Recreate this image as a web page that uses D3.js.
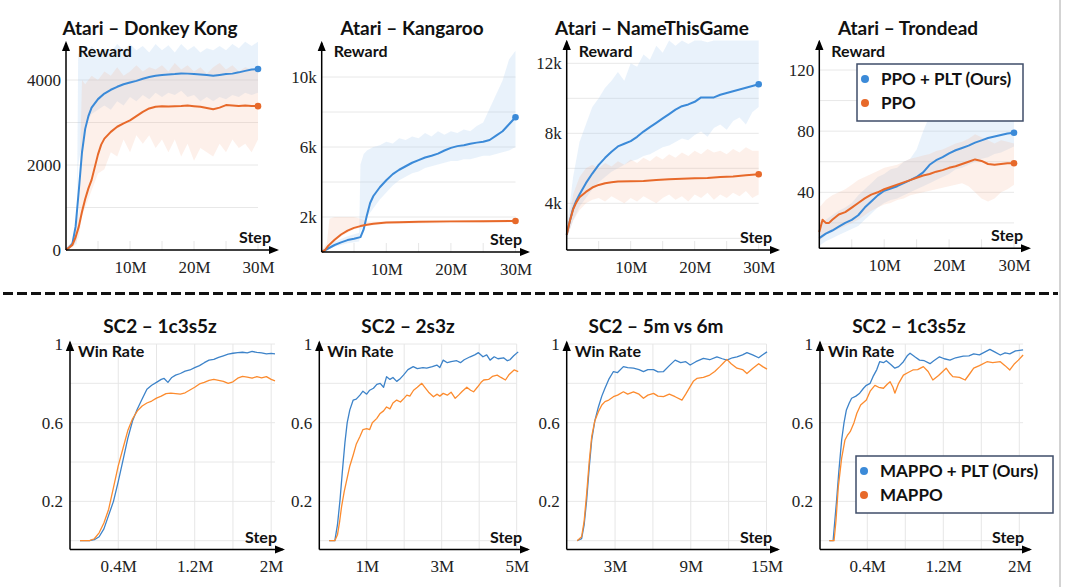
<!DOCTYPE html>
<html>
<head>
<meta charset="utf-8">
<style>
    body { margin: 0; background: #fff; }
    svg { display: block; }
    .title { font-family: Lato, "Open Sans", sans-serif; font-weight: 700; font-size: 19px; fill: #111; }
    .alabel { font-family: Lato, "Open Sans", sans-serif; font-weight: 700; font-size: 16px; fill: #111; }
    .domain { display: none; }
    .legend text { font-family: Lato, "Open Sans", sans-serif; font-weight: 700; font-size: 17px; fill: #111; }
</style>
</head>
<body>
<svg width="1067" height="587"></svg>

<script src="https://d3js.org/d3.v7.min.js"></script>
<script>
// ---------- data (step in M, value) ----------
const dkPLT = [[0,0],[0.5,60],[1,150],[1.5,550],[2,1400],[2.5,2300],[3,2850],[3.5,3150],[4,3350],[5,3550],[6,3680],[7,3770],[8,3840],[9,3900],[10,3940],[11,3980],[12,4030],[13,4070],[14,4100],[15,4120],[16,4130],[17,4140],[18,4155],[19,4150],[20,4140],[21,4130],[22,4115],[23,4100],[24,4120],[25,4140],[26,4150],[27,4180],[28,4215],[29,4245],[30,4260]];
const dkPPO = [[0,0],[1,120],[1.5,300],[2,550],[2.5,900],[3,1200],[3.5,1450],[4,1650],[4.5,1950],[5,2250],[5.5,2480],[6,2620],[7,2780],[8,2900],[9,2980],[10,3050],[11,3150],[12,3250],[13,3330],[14,3370],[15,3380],[16,3375],[17,3385],[18,3390],[19,3400],[20,3385],[21,3370],[22,3340],[23,3310],[24,3350],[25,3410],[26,3400],[27,3390],[28,3400],[29,3390],[30,3385]];
const dkPLTBand = [[0,0,50],[1,80,200],[1.7,150,500],[1.9,2000,4600],[2.5,2500,4750],[3,2900,4500],[4,3200,4800],[5,3300,4600],[6,3400,4750],[7,3300,4650],[8,3500,4850],[9,3400,4700],[10,3600,4850],[11,3500,4700],[12,3650,4800],[13,3550,4650],[14,3700,4850],[15,3600,4700],[16,3700,4820],[17,3650,4650],[18,3750,4850],[19,3600,4700],[20,3650,4800],[21,3500,4650],[22,3600,4750],[23,3500,4700],[24,3600,4800],[25,3550,4700],[26,3650,4850],[27,3600,4750],[28,3700,4900],[29,3650,4800],[30,3700,4900]];
const dkPPOBand = [[0,0,50],[1,60,200],[2,300,900],[2.5,800,4000],[3,1000,3900],[4,1400,4100],[5,1800,4000],[6,1900,4200],[7,2300,4100],[8,2200,4300],[9,2600,4100],[10,2300,4200],[11,2700,4350],[12,2500,4200],[13,2700,4300],[14,2400,4250],[15,2600,4350],[16,2300,4200],[17,2600,4400],[18,2200,4250],[19,2500,4350],[20,2100,4200],[21,2400,4300],[22,2300,4150],[23,2200,4300],[24,2500,4400],[25,2300,4250],[26,2600,4350],[27,2400,4200],[28,2500,4300],[29,2300,4250],[30,2600,4300]];

const kgPLT = [[0,0],[1,0.2],[2,0.4],[3,0.55],[4,0.68],[5,0.76],[6,0.85],[6.5,1.3],[7,2.1],[7.5,2.8],[8,3.2],[9,3.7],[10,4.1],[11,4.45],[12,4.7],[13,4.9],[14,5.1],[15,5.25],[16,5.4],[17,5.5],[18,5.62],[19,5.8],[20,5.95],[21,6.05],[22,6.1],[23,6.18],[24,6.25],[25,6.3],[26,6.4],[27,6.65],[28,6.9],[29,7.3],[30,7.7]];
const kgPPO = [[0,0],[0.5,0.1],[1,0.35],[2,0.7],[3,1.0],[4,1.22],[5,1.38],[6,1.48],[7,1.56],[8,1.62],[10,1.68],[12,1.7],[15,1.73],[20,1.75],[25,1.76],[30,1.77]];
const kgPLTBand = [[0,0,0.1],[2,0.3,0.6],[4,0.5,0.9],[5.8,0.6,1.1],[6,1.2,5.0],[6.5,1.5,5.6],[7,2.0,5.8],[8,2.5,6.0],[9,3.0,6.1],[10,3.4,6.3],[11,3.8,6.2],[12,4.1,6.5],[13,4.3,6.4],[14,4.5,6.6],[15,4.6,6.5],[16,4.8,6.8],[17,4.9,6.6],[18,5.0,6.9],[19,5.1,6.7],[20,5.2,6.9],[21,5.2,6.8],[22,5.3,7.0],[23,5.3,6.9],[24,5.4,7.2],[25,5.5,7.4],[26,5.5,8.2],[27,5.6,9.0],[28,5.7,9.8],[29,5.8,11.0],[30,6.0,11.5]];
const kgPPOBand = [[0,0,0.1],[0.8,0.1,0.5],[1.2,0.3,1.9],[2,0.6,2.0],[3,0.9,2.0],[4,1.1,2.0],[5,1.3,2.0],[6,1.4,1.9],[7,1.5,1.75],[10,1.6,1.75],[30,1.7,1.85]];

const ntPLT = [[0,2.2],[0.5,3.0],[1,3.7],[1.5,4.15],[2,4.5],[3,5.15],[4,5.7],[5,6.2],[6,6.6],[7,6.95],[8,7.25],[9,7.4],[10,7.55],[11,7.8],[12,8.1],[13,8.35],[14,8.6],[15,8.85],[16,9.1],[17,9.35],[18,9.55],[19,9.65],[20,9.8],[21,10.05],[22,10.05],[23,10.05],[24,10.2],[25,10.3],[26,10.4],[27,10.5],[28,10.6],[29,10.7],[30,10.8]];
const ntPPO = [[0,2.2],[0.5,3.0],[1,3.65],[1.5,4.05],[2,4.35],[3,4.65],[4,4.9],[5,5.05],[6,5.15],[7,5.2],[8,5.25],[10,5.26],[12,5.28],[14,5.33],[16,5.37],[18,5.4],[20,5.43],[22,5.45],[24,5.5],[26,5.53],[28,5.6],[30,5.66]];
const ntPLTBand = [[0,2.0,2.5],[1,3.0,5.5],[2,3.8,7.5],[3,4.3,8.5],[4,4.8,9.5],[5,5.2,10.0],[6,5.5,10.6],[7,5.8,11.0],[8,6.0,11.5],[9,6.2,11.0],[10,6.4,12.0],[11,6.5,11.8],[12,6.7,12.5],[13,6.8,12.2],[14,7.0,13.0],[15,7.2,12.6],[16,7.3,13.3],[17,7.5,13.0],[18,7.7,13.3],[19,7.6,13.1],[20,7.9,13.3],[21,8.1,13.3],[22,7.8,13.2],[23,8.3,13.3],[24,8.5,13.3],[25,8.2,13.3],[26,8.7,13.3],[27,8.9,13.3],[28,8.5,13.3],[29,9.2,13.3],[30,9.5,13.3]];
const ntPPOBand = [[0,2.0,2.4],[1,3.0,4.5],[2,3.6,5.5],[3,4.0,6.0],[4,4.2,6.2],[5,4.3,6.0],[6,4.1,6.3],[7,4.4,6.1],[8,4.2,6.4],[9,4.0,6.2],[10,4.3,6.5],[11,4.1,6.3],[12,4.4,6.6],[13,4.2,6.4],[14,4.0,6.7],[15,4.3,6.5],[16,4.5,6.8],[17,4.2,6.6],[18,4.4,6.9],[19,4.1,6.7],[20,4.5,7.0],[21,4.3,6.8],[22,4.6,7.1],[23,4.2,6.9],[24,4.5,7.0],[25,4.3,6.8],[26,4.6,7.1],[27,4.4,6.9],[28,4.7,7.2],[29,4.3,7.0],[30,4.5,7.0]];

const trPLT = [[0,10],[1,13],[2,15],[3,17.5],[4,20],[5,22],[6,25],[7,30],[8,34],[9,38],[10,41],[11,42.5],[12,44],[13,46],[14,48],[15,50],[16,53],[17,58],[18,61],[19,63],[20,65.5],[21,67.5],[22,69],[23,70.5],[24,72.5],[25,74],[26,75.5],[27,76.5],[28,77.5],[29,78.5],[30,79]];
const trPPO = [[0,14],[0.5,22],[1,20],[1.5,20],[2,22],[3,25.5],[4,27],[5,30],[6,33],[7,36],[8,38.5],[9,40],[10,42],[11,43.5],[12,45],[13,46.5],[14,48],[15,49.5],[16,51],[17,52],[18,53.5],[19,54.5],[20,56],[21,57],[22,58.5],[23,60],[24,61.5],[25,60.5],[26,58.5],[27,58],[28,58.5],[29,59],[30,59]];
const trPLTBand = [[0,5,18],[1,8,22],[2,10,25],[3,12,28],[4,14,30],[5,16,33],[6,18,38],[7,22,42],[8,26,46],[9,30,50],[10,33,52],[11,35,55],[12,36,56],[13,38,60],[14,40,62],[15,42,68],[16,44,80],[17,46,90],[18,48,92],[19,50,88],[20,52,90],[21,55,88],[22,56,90],[23,58,88],[24,60,92],[25,62,90],[26,63,88],[27,65,92],[28,66,90],[29,68,92],[30,70,90]];
const trPPOBand = [[0,8,30],[1,12,35],[2,14,38],[3,16,40],[4,18,42],[5,20,45],[6,22,48],[7,25,50],[8,28,52],[9,30,54],[10,32,56],[11,33,57],[12,35,58],[13,36,60],[14,38,62],[15,39,63],[16,40,64],[17,41,65],[18,42,67],[19,43,68],[20,44,70],[21,45,72],[22,46,73],[23,44,75],[24,40,78],[25,36,76],[26,34,74],[27,36,72],[28,40,74],[29,42,73],[30,45,72]];

const s1PLT = [[0,0],[0.1,0],[0.15,0.005],[0.2,0.02],[0.25,0.06],[0.3,0.13],[0.35,0.2],[0.4,0.3],[0.45,0.41],[0.5,0.52],[0.55,0.61],[0.6,0.67],[0.65,0.72],[0.7,0.77],[0.75,0.79],[0.8,0.805],[0.85,0.82],[0.88,0.825],[0.92,0.805],[0.96,0.83],[1.0,0.842],[1.05,0.85],[1.1,0.862],[1.15,0.868],[1.2,0.88],[1.25,0.89],[1.3,0.905],[1.35,0.918],[1.4,0.922],[1.45,0.932],[1.5,0.94],[1.55,0.948],[1.6,0.953],[1.65,0.956],[1.7,0.958],[1.75,0.955],[1.8,0.962],[1.85,0.957],[1.9,0.955],[1.95,0.95],[2.0,0.952],[2.04,0.95]];
const s1MAPPO = [[0,0],[0.1,0],[0.15,0.01],[0.2,0.04],[0.25,0.09],[0.3,0.16],[0.35,0.27],[0.4,0.38],[0.45,0.47],[0.5,0.56],[0.55,0.62],[0.6,0.66],[0.65,0.685],[0.7,0.7],[0.75,0.71],[0.8,0.725],[0.85,0.735],[0.9,0.748],[0.95,0.75],[1.0,0.748],[1.05,0.745],[1.1,0.752],[1.15,0.766],[1.2,0.78],[1.25,0.797],[1.3,0.805],[1.35,0.815],[1.4,0.82],[1.45,0.815],[1.5,0.81],[1.55,0.8],[1.6,0.808],[1.65,0.826],[1.7,0.835],[1.75,0.832],[1.8,0.826],[1.85,0.834],[1.9,0.828],[1.95,0.834],[2.0,0.82],[2.04,0.813]];
const s2PLT = [[0,0],[0.15,0],[0.22,0.08],[0.29,0.21],[0.35,0.35],[0.42,0.5],[0.48,0.6],[0.55,0.665],[0.64,0.715],[0.72,0.72],[0.82,0.74],[0.9,0.76],[1.0,0.745],[1.08,0.765],[1.18,0.775],[1.27,0.795],[1.36,0.8],[1.45,0.78],[1.53,0.834],[1.62,0.82],[1.7,0.83],[1.8,0.81],[1.9,0.825],[1.98,0.842],[2.1,0.87],[2.24,0.885],[2.35,0.875],[2.5,0.88],[2.6,0.877],[2.75,0.885],[2.87,0.893],[2.95,0.88],[3.04,0.918],[3.15,0.905],[3.25,0.91],[3.4,0.915],[3.5,0.905],[3.6,0.92],[3.76,0.935],[3.88,0.945],[3.98,0.956],[4.1,0.935],[4.2,0.945],[4.29,0.918],[4.4,0.935],[4.5,0.925],[4.65,0.93],[4.75,0.915],[4.82,0.92],[4.92,0.94],[5.04,0.96]];
const s2MAPPO = [[0,0],[0.15,0],[0.22,0.03],[0.28,0.1],[0.33,0.173],[0.4,0.25],[0.47,0.31],[0.55,0.38],[0.64,0.436],[0.72,0.49],[0.82,0.53],[0.9,0.565],[1.0,0.57],[1.08,0.565],[1.15,0.6],[1.27,0.622],[1.35,0.645],[1.45,0.66],[1.53,0.68],[1.62,0.67],[1.7,0.7],[1.8,0.715],[1.9,0.705],[2.0,0.725],[2.07,0.74],[2.15,0.735],[2.25,0.765],[2.35,0.78],[2.47,0.8],[2.55,0.78],[2.65,0.755],[2.78,0.732],[2.88,0.745],[2.95,0.735],[3.04,0.749],[3.15,0.74],[3.25,0.755],[3.36,0.724],[3.45,0.74],[3.55,0.76],[3.67,0.78],[3.77,0.765],[3.85,0.757],[3.95,0.78],[4.05,0.805],[4.12,0.817],[4.25,0.82],[4.35,0.835],[4.48,0.842],[4.58,0.83],[4.7,0.817],[4.8,0.845],[4.93,0.868],[5.04,0.86]];
const s3PLT = [[0,0],[0.35,0.01],[0.55,0.08],[0.75,0.207],[0.95,0.37],[1.15,0.512],[1.4,0.61],[1.68,0.68],[1.95,0.735],[2.2,0.775],[2.5,0.82],[2.87,0.86],[3.2,0.855],[3.66,0.885],[4.0,0.88],[4.46,0.877],[4.9,0.87],[5.25,0.86],[5.6,0.87],[6.05,0.87],[6.4,0.858],[6.84,0.86],[7.3,0.89],[7.76,0.918],[8.2,0.905],[8.6,0.91],[8.95,0.893],[9.4,0.91],[10.0,0.927],[10.5,0.92],[11.07,0.935],[11.5,0.925],[11.86,0.918],[12.3,0.93],[12.66,0.935],[13.1,0.945],[13.45,0.956],[13.9,0.945],[14.38,0.93],[14.7,0.945],[15.04,0.96]];
const s3MAPPO = [[0,0],[0.35,0.02],[0.55,0.1],[0.75,0.24],[0.95,0.4],[1.15,0.53],[1.4,0.61],[1.68,0.656],[1.95,0.69],[2.2,0.707],[2.5,0.715],[2.87,0.732],[3.2,0.74],[3.66,0.757],[4.0,0.745],[4.46,0.757],[4.9,0.745],[5.25,0.724],[5.6,0.74],[6.05,0.749],[6.4,0.735],[6.84,0.732],[7.3,0.745],[7.76,0.732],[8.3,0.715],[8.6,0.745],[8.95,0.783],[9.2,0.81],[9.48,0.825],[10.0,0.83],[10.5,0.842],[10.9,0.86],[11.3,0.885],[11.6,0.905],[11.86,0.922],[12.2,0.9],[12.66,0.877],[13.1,0.87],[13.45,0.85],[13.9,0.875],[14.38,0.9],[14.7,0.885],[15.04,0.872]];
const s4PLT = [[0,0],[0.04,0],[0.077,0.207],[0.1,0.35],[0.13,0.512],[0.155,0.6],[0.18,0.665],[0.21,0.7],[0.235,0.724],[0.28,0.735],[0.32,0.75],[0.36,0.775],[0.39,0.79],[0.43,0.8],[0.46,0.834],[0.5,0.87],[0.53,0.91],[0.57,0.905],[0.6,0.915],[0.65,0.895],[0.69,0.877],[0.73,0.885],[0.78,0.91],[0.82,0.94],[0.85,0.953],[0.9,0.935],[0.95,0.918],[1.0,0.915],[1.06,0.9],[1.1,0.915],[1.16,0.935],[1.21,0.925],[1.27,0.918],[1.33,0.93],[1.41,0.938],[1.47,0.94],[1.52,0.95],[1.58,0.945],[1.64,0.96],[1.69,0.973],[1.74,0.96],[1.8,0.944],[1.85,0.955],[1.9,0.95],[1.96,0.965],[2.04,0.97]];
const s4MAPPO = [[0,0],[0.05,0],[0.07,0.1],[0.095,0.275],[0.13,0.42],[0.165,0.512],[0.19,0.535],[0.22,0.554],[0.26,0.6],[0.29,0.648],[0.33,0.69],[0.39,0.715],[0.43,0.76],[0.48,0.79],[0.52,0.78],[0.57,0.775],[0.61,0.795],[0.64,0.808],[0.67,0.78],[0.69,0.75],[0.73,0.8],[0.78,0.842],[0.83,0.855],[0.88,0.868],[0.93,0.87],[0.99,0.885],[1.04,0.86],[1.09,0.817],[1.15,0.84],[1.23,0.877],[1.27,0.85],[1.3,0.834],[1.37,0.83],[1.43,0.817],[1.48,0.85],[1.52,0.877],[1.58,0.89],[1.66,0.91],[1.72,0.905],[1.8,0.91],[1.85,0.89],[1.9,0.868],[1.95,0.9],[1.99,0.918],[2.04,0.944]];

// tick labels
const atariXTicks = [10, 20, 30];
const sc2XTicks2M = [0.4, 1.2, 2];
const sc2XTicks5M = [1, 3, 5];
const sc2XTicks15M = [3, 9, 15];
const winRateTicks = [0.2, 0.6, 1];

const topLegend = ["PPO + PLT (Ours)", "PPO"];
const bottomLegend = ["MAPPO + PLT (Ours)", "MAPPO"];

// ---------- panels (layout in px) ----------
let panels = [
    { title: "Atari \u2013 Donkey Kong", tx: 150, ty: 35, ylab: "Reward", ax: 66, ay: 250, top: 43, right: 277,
      xd: [0, 30], xr: [66, 258], yd: [0, 4000], yr: [250, 80], yticks: [0, 2000, 4000], yfmt: d => d,
      ygrid: [1000, 2000, 3000, 4000], xgrid: [5, 10, 15, 20, 25, 30], xticks: atariXTicks, xfmt: d => d + "M",
      lines: [dkPLT, dkPPO], bands: [dkPLTBand, dkPPOBand], row: 0 },
    { title: "Atari \u2013 Kangaroo", tx: 412, ty: 35, ylab: "Reward", ax: 321.7, ay: 252, top: 43, right: 528,
      xd: [0, 30], xr: [321.7, 515.5], yd: [0, 10], yr: [252, 77], yticks: [2, 6, 10], yfmt: d => d + "k",
      ygrid: [2, 4, 6, 8, 10], xgrid: [5, 10, 15, 20, 25, 30], xticks: atariXTicks, xfmt: d => d + "M",
      lines: [kgPLT, kgPPO], bands: [kgPLTBand, kgPPOBand], row: 0 },
    { title: "Atari \u2013 NameThisGame", tx: 652, ty: 35, ylab: "Reward", ax: 566.7, ay: 250, top: 41.7, right: 778,
      xd: [0, 30], xr: [566.7, 758.7], yd: [4, 12], yr: [203.3, 63.3], yticks: [4, 8, 12], yfmt: d => d + "k",
      ygrid: [2, 4, 6, 8, 10, 12], xgrid: [5, 10, 15, 20, 25, 30], xticks: atariXTicks, xfmt: d => d + "M",
      lines: [ntPLT, ntPPO], bands: [ntPLTBand, ntPPOBand], row: 0 },
    { title: "Atari \u2013 Trondead", tx: 908, ty: 35, ylab: "Reward", ax: 819.3, ay: 248.3, top: 41.7, right: 1029,
      xd: [0, 30], xr: [819.3, 1014], yd: [40, 120], yr: [192.3, 70], yticks: [40, 80, 120], yfmt: d => d,
      ygrid: [20, 40, 60, 80, 100, 120], xgrid: [5, 10, 15, 20, 25, 30], xticks: atariXTicks, xfmt: d => d + "M",
      lines: [trPLT, trPPO], bands: [trPLTBand, trPPOBand], row: 0, legend: topLegend },

    { title: "SC2 \u2013 1c3s5z", tx: 160, ty: 333, ylab: "Win Rate", ax: 70, ay: 549.5, top: 342.5, right: 283,
      xd: [0, 2.04], xr: [80, 275], yd: [0, 1], yr: [540.7, 344], yticks: winRateTicks, yfmt: d => d,
      ygrid: [0, 0.2, 0.4, 0.6, 0.8, 1], xgrid: [0.4, 0.8, 1.2, 1.6, 2.0], xticks: sc2XTicks2M, xfmt: d => d + "M",
      lines: [s1PLT, s1MAPPO], bands: [], row: 1 },
    { title: "SC2 \u2013 2s3z", tx: 408, ty: 333, ylab: "Win Rate", ax: 319.3, ay: 549.5, top: 342.5, right: 528,
      xd: [0, 5], xr: [329.2, 516.7], yd: [0, 1], yr: [540.7, 344], yticks: winRateTicks, yfmt: d => d,
      ygrid: [0, 0.2, 0.4, 0.6, 0.8, 1], xgrid: [1, 2, 3, 4, 5], xticks: sc2XTicks5M, xfmt: d => d + "M",
      lines: [s2PLT, s2MAPPO], bands: [], row: 1 },
    { title: "SC2 \u2013 5m vs 6m", tx: 656, ty: 333, ylab: "Win Rate", ax: 566.7, ay: 549.5, top: 342.5, right: 778,
      xd: [0, 15], xr: [577.2, 766.5], yd: [0, 1], yr: [540.7, 344], yticks: winRateTicks, yfmt: d => d,
      ygrid: [0, 0.2, 0.4, 0.6, 0.8, 1], xgrid: [3, 6, 9, 12, 15], xticks: sc2XTicks15M, xfmt: d => d + "M",
      lines: [s3PLT, s3MAPPO], bands: [], row: 1 },
    { title: "SC2 \u2013 1c3s5z", tx: 909, ty: 333, ylab: "Win Rate", ax: 820, ay: 549.5, top: 342.5, right: 1030,
      xd: [0, 2.04], xr: [829.3, 1023.1], yd: [0, 1], yr: [540.7, 344], yticks: winRateTicks, yfmt: d => d,
      ygrid: [0, 0.2, 0.4, 0.6, 0.8, 1], xgrid: [0.4, 0.8, 1.2, 1.6, 2.0], xticks: sc2XTicks2M, xfmt: d => d + "M",
      lines: [s4PLT, s4MAPPO], bands: [], row: 1, legend: bottomLegend }
];

let colors = [
    { line: ["#3b8ad8", "#e7692a"], band: ["rgba(165,200,240,0.24)", "rgba(245,180,150,0.2)"], width: 2 },
    { line: ["#3d83c9", "#fc8b2e"], width: 1.3 }
];

let svg = d3.select("svg");

let defs = svg.append("defs");
defs.append("marker")
    .attr("id", "arrow")
    .attr("viewBox", "0 0 10 10")
    .attr("refX", 8).attr("refY", 5)
    .attr("markerWidth", 7).attr("markerHeight", 7)
    .attr("orient", "auto")
    .append("path")
    .attr("d", "M0,1 L10,5 L0,9 Z")
    .style("fill", "#000");

// separators
svg.append("line")
    .attr("x1", 3).attr("x2", 1058).attr("y1", 293.5).attr("y2", 293.5)
    .style("stroke", "#111").style("stroke-width", 3).style("stroke-dasharray", "10,4");
svg.append("line")
    .attr("x1", 1060).attr("x2", 1060).attr("y1", 0).attr("y2", 587)
    .style("stroke", "#c4c4c4").style("stroke-width", 1.5);

function styleTicks(sel) {
    sel.selectAll("text")
        .style("font-family", "'Liberation Serif', 'Times New Roman', 'DejaVu Serif', serif")
        .style("font-size", "17px")
        .style("fill", "#222");
}

panels.forEach(function (p) {
    let c = colors[p.row];
    let g = svg.append("g");
    let x = d3.scaleLinear().domain(p.xd).range(p.xr);
    let y = d3.scaleLinear().domain(p.yd).range(p.yr);

    // horizontal grid
    g.append("g").selectAll("line")
        .data(p.ygrid)
        .join("line")
        .attr("x1", p.ax).attr("x2", p.xr[1])
        .attr("y1", d => y(d)).attr("y2", d => y(d))
        .style("stroke", "#e8e8e8").style("stroke-width", 1);

    // vertical grid: short marks on top row, full lines on bottom row
    g.append("g").selectAll("line")
        .data(p.xgrid)
        .join("line")
        .attr("x1", d => x(d)).attr("x2", d => x(d))
        .attr("y1", p.ay)
        .attr("y2", p.row == 0 ? p.ay - 9 : y(1))
        .style("stroke", "#e6e6e6").style("stroke-width", 1);

    // bands
    let area = d3.area()
        .x(d => x(d[0]))
        .y0(d => y(d[1]))
        .y1(d => y(d[2]));
    p.bands.forEach(function (b, i) {
        g.append("path")
            .attr("d", area(b))
            .style("fill", c.band[i])
            .style("stroke", "none");
    });

    // lines
    let line = d3.line()
        .x(d => x(d[0]))
        .y(d => y(d[1]));
    p.lines.forEach(function (s, i) {
        g.append("path")
            .attr("d", line(s))
            .style("fill", "none")
            .style("stroke", c.line[i])
            .style("stroke-width", c.width)
            .style("stroke-linejoin", "round");
    });

    // end dots (top row)
    if (p.row == 0) {
        p.lines.forEach(function (s, i) {
            let last = s[s.length - 1];
            g.append("circle")
                .attr("cx", x(last[0])).attr("cy", y(last[1]))
                .attr("r", 3.3)
                .style("fill", c.line[i]);
        });
    }

    // axis lines with arrows
    g.append("line")
        .attr("x1", p.ax).attr("x2", p.ax).attr("y1", p.ay).attr("y2", p.top)
        .style("stroke", "#000").style("stroke-width", 1.5)
        .attr("marker-end", "url(#arrow)");
    g.append("line")
        .attr("x1", p.ax).attr("x2", p.right).attr("y1", p.ay).attr("y2", p.ay)
        .style("stroke", "#000").style("stroke-width", 1.5)
        .attr("marker-end", "url(#arrow)");

    // tick labels
    g.append("g")
        .attr("transform", `translate(${p.ax},0)`)
        .call(d3.axisLeft(y).tickValues(p.yticks).tickFormat(p.yfmt).tickSize(0).tickPadding(p.row == 0 ? 5 : 7))
        .call(styleTicks);
    g.append("g")
        .attr("transform", `translate(0,${p.ay})`)
        .call(d3.axisBottom(x).tickValues(p.xticks).tickFormat(p.xfmt).tickSize(0).tickPadding(p.row == 0 ? 11 : 10))
        .call(styleTicks);

    // titles and axis labels
    g.append("text").attr("class", "title")
        .attr("x", p.tx).attr("y", p.ty)
        .attr("text-anchor", "middle")
        .text(p.title);
    g.append("text").attr("class", "alabel")
        .attr("x", p.ax + (p.row == 0 ? 12 : 8)).attr("y", p.row == 0 ? 57 : 356.5)
        .text(p.ylab);
    g.append("text").attr("class", "alabel")
        .attr("x", p.right - 6).attr("y", p.ay - 7)
        .attr("text-anchor", "end")
        .text("Step");

    // legend
    if (p.legend) {
        let box = p.row == 0 ? { x: 857, y: 64, w: 166, h: 57 } : { x: 856, y: 456, w: 197, h: 57 };
        let lg = g.append("g").attr("class", "legend");
        lg.append("rect")
            .attr("x", box.x).attr("y", box.y).attr("width", box.w).attr("height", box.h)
            .style("fill", "#fff").style("stroke", "#3f4d69").style("stroke-width", 1.5);
        p.legend.forEach(function (name, i) {
            let cy = box.y + 15 + i * 24;
            lg.append("circle")
                .attr("cx", box.x + 8).attr("cy", cy).attr("r", 4)
                .style("fill", colors[0].line[i]);
            lg.append("text")
                .attr("x", box.x + 24).attr("y", cy + 6)
                .text(name);
        });
    }
});
</script>
</body>
</html>
